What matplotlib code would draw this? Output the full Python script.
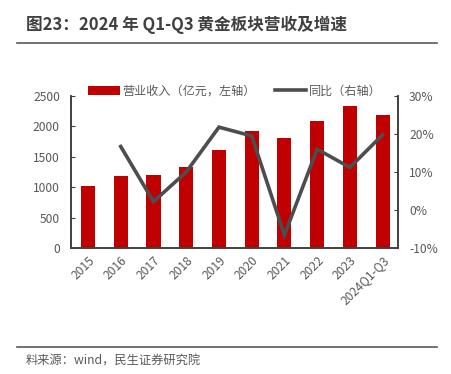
import matplotlib
matplotlib.use("Agg")
import matplotlib.pyplot as plt
from matplotlib.lines import Line2D
from matplotlib.patches import Patch
import numpy as np

plt.rcParams['font.family'] = ['Noto Sans CJK SC', 'DejaVu Sans']

categories = ['2015', '2016', '2017', '2018', '2019', '2020', '2021', '2022', '2023', '2024Q1-Q3']
revenue = [1020, 1180, 1206, 1327, 1617, 1929, 1804, 2094, 2330, 2182]
yoy = [None, 16.7, 2.2, 10.0, 21.8, 19.5, -6.6, 16.0, 11.2, 19.8]

title = '图23：2024 年 Q1-Q3 黄金板块营收及增速'
source = '料来源：wind，民生证券研究院'
bar_label = '营业收入（亿元，左轴）'
line_label = '同比（右轴）'

RED = '#C00000'
LINE = '#4D4D4D'
TXT = '#595959'

fig = plt.figure(figsize=(4.52, 3.74), dpi=100)
ax = fig.add_axes([71/452, 1-248/374, (398-71)/452, (248-96)/374])
x = np.arange(len(categories))
ax.bar(x, revenue, width=0.43, color=RED, zorder=2)
ax.set_xlim(-0.52, len(categories) - 0.53)
ax.set_ylim(0, 2500)
ax.set_yticks([0, 500, 1000, 1500, 2000, 2500])
ax.set_xticks(x)
ax.set_xticklabels(categories, rotation=45, ha='right', rotation_mode='anchor')
ax.spines['top'].set_visible(False)
for s in ['left', 'bottom', 'right']:
    ax.spines[s].set_color('#404040')
    ax.spines[s].set_linewidth(1.2)
ax.tick_params(axis='y', direction='in', length=3, colors='#404040', labelcolor=TXT, labelsize=8.7, pad=8)
ax.tick_params(axis='x', length=0, labelcolor=TXT, labelsize=8.7, pad=4)

ax2 = ax.twinx()
xs = [xi for xi, v in zip(x, yoy) if v is not None]
ys = [v for v in yoy if v is not None]
ax2.plot(xs, ys, color=LINE, linewidth=2.6, zorder=3, solid_joinstyle='miter')
ax2.set_ylim(-10, 30)
ax2.set_yticks([-10, 0, 10, 20, 30])
ax2.set_yticklabels(['-10%', '0%', '10%', '20%', '30%'])
ax2.spines['top'].set_visible(False)
for s in ['left', 'bottom', 'right']:
    ax2.spines[s].set_color('#404040')
    ax2.spines[s].set_linewidth(1.2)
ax2.tick_params(axis='y', direction='in', length=3, colors='#404040', labelcolor=TXT, labelsize=8.7, pad=8)

handles = [Patch(facecolor=RED, edgecolor='none'), Line2D([0], [0], color=LINE, linewidth=2.6)]
fig.legend(handles, [bar_label, line_label], loc='center', bbox_to_anchor=(235/452, 1-91/374),
           ncol=2, frameon=False, fontsize=8.7, labelcolor=TXT, handlelength=2.6,
           handletextpad=0.2, columnspacing=1.6, borderaxespad=0)

fig.text(26/452, 1-25/374, title, fontsize=12, fontweight='bold', color='#404040', va='center', ha='left')
fig.add_artist(Line2D([17/452, 437/452], [1-43/374, 1-43/374], color='#595959', linewidth=1.2))
fig.add_artist(Line2D([17/452, 437/452], [1-347/374, 1-347/374], color='#595959', linewidth=1.2))
fig.text(26/452, 1-361/374, source, fontsize=8.8, color=TXT, va='center', ha='left')

fig.savefig('out.png', dpi=100)
